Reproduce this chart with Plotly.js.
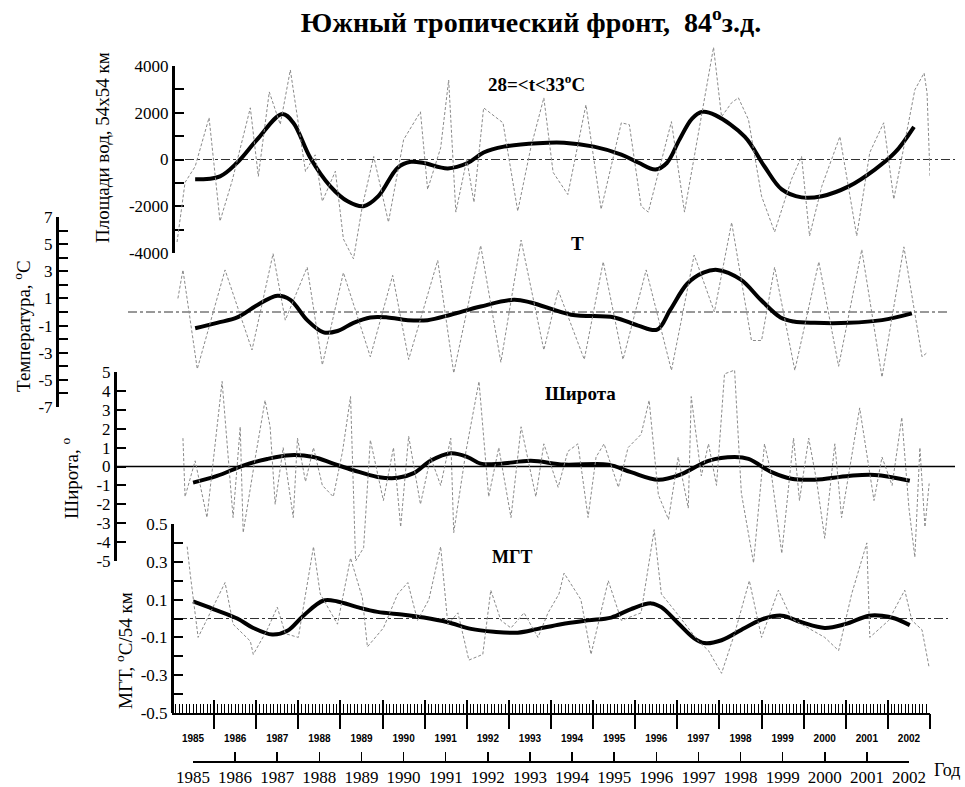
<!DOCTYPE html>
<html><head><meta charset="utf-8">
<script src="https://cdn.plot.ly/plotly-3.0.1.min.js"></script>
<style>html,body{margin:0;padding:0;background:#fff}#chart{width:965px;height:787px}</style>
</head><body><div id="chart"></div>
<script>
// ================= DATA =================
const yearTicks = [1985,1986,1987,1988,1989,1990,1991,1992,1993,1994,1995,1996,1997,1998,1999,2000,2001,2002];
const yearLabels = yearTicks.map(String);

// Panel 1: area of waters 28<=t<33°C (units of 54x54 km)
const areaSmoothYears = [1985.05,1985.64,1986.05,1986.52,1987.12,1987.38,1987.79,1988.26,1988.67,1989.05,1989.40,1989.86,1990.17,1990.48,1991.05,1991.52,1991.90,1992.38,1993.19,1993.81,1994.52,1995.17,1995.57,1995.98,1996.25,1996.55,1996.85,1997.10,1997.40,1998.10,1998.57,1998.98,1999.45,1999.93,2000.57,2001.19,2001.67,2002.12];
const areaSmooth = [-850,-720,-130,850,1950,1570,50,-1150,-1790,-2000,-1570,-350,-100,-150,-380,-150,300,550,700,720,550,210,-130,-430,-150,850,1750,2040,1900,980,-300,-1280,-1620,-1570,-1150,-430,300,1400];
const areaRawYears = [1984.62,1984.81,1985.05,1985.38,1985.64,1985.93,1986.36,1986.55,1986.81,1987.07,1987.31,1987.67,1987.90,1988.07,1988.38,1988.57,1988.81,1989.02,1989.29,1989.64,1990.00,1990.40,1990.57,1990.88,1991.07,1991.24,1991.50,1991.67,1991.90,1992.36,1992.71,1993.02,1993.33,1993.55,1993.90,1994.33,1994.69,1995.17,1995.36,1995.64,1995.81,1996.36,1996.67,1997.24,1997.36,1997.55,1997.79,1997.95,1998.19,1998.50,1998.81,1999.21,1999.45,1999.64,1999.93,2000.36,2000.76,2001.07,2001.40,2001.64,2002.14,2002.36,2002.43,2002.50];
const areaRaw = [-3530,-980,-300,1790,-2640,-900,2210,-720,2890,1500,3830,-510,200,-1790,-500,-3400,-4250,-2000,130,-2680,850,2040,-1280,500,3400,-2250,0,-1830,2210,1570,-2210,500,2640,-550,-1500,2340,-2130,1570,1490,-2000,-2250,1620,-2250,3700,4800,1830,2430,2640,1700,-1570,-3100,-850,130,-3270,-1150,980,-3270,300,1570,-1700,2980,3700,2850,-700];

// Panel 2: temperature anomaly T, °C
const tSmoothYears = [1985.05,1985.57,1986.05,1986.52,1987.00,1987.31,1987.71,1988.10,1988.43,1988.81,1989.21,1989.62,1990.10,1990.57,1991.12,1991.83,1992.62,1993.02,1993.98,1995.00,1995.57,1996.02,1996.33,1996.74,1997.12,1997.45,1998.00,1998.48,1998.95,1999.26,1999.76,2000.57,2001.36,2002.07];
const tSmooth = [-1.2,-0.8,-0.4,0.5,1.2,0.9,-0.6,-1.5,-1.4,-0.8,-0.4,-0.4,-0.6,-0.6,-0.2,0.4,0.9,0.7,-0.2,-0.4,-1.0,-1.3,0.15,2.1,2.9,3.1,2.4,0.9,-0.4,-0.7,-0.8,-0.8,-0.6,-0.1];
const tRawYears = [1984.64,1984.76,1985.10,1985.76,1986.40,1986.90,1987.19,1987.71,1988.07,1988.57,1989.21,1989.74,1990.12,1990.81,1991.19,1991.83,1992.31,1992.79,1993.33,1993.67,1994.29,1994.74,1995.21,1995.76,1996.36,1996.90,1997.38,1997.79,1998.26,1998.50,1998.81,1999.29,1999.86,2000.33,2000.88,2001.36,2001.88,2002.31,2002.43];
const tRaw = [1.0,3.1,-4.2,3.1,-2.8,4.3,-0.6,3.3,-3.9,2.9,-3.3,2.7,-3.5,3.8,-4.5,4.9,-3.7,5.3,-2.8,1.6,-3.5,3.7,-3.5,3.1,-4.3,4.2,0.0,6.6,-2.1,-2.1,3.3,-4.3,3.7,-4.0,4.6,-4.8,4.8,-3.3,-3.0];

// Panel 3: front latitude anomaly, degrees
const latSmoothYears = [1985.00,1985.57,1986.19,1986.76,1987.31,1987.86,1988.33,1988.81,1989.38,1989.86,1990.24,1990.64,1991.12,1991.52,1991.83,1992.31,1993.02,1993.81,1994.86,1995.40,1996.05,1996.60,1997.24,1997.86,1998.19,1998.74,1999.21,1999.76,2000.57,2001.19,2002.02];
const latSmooth = [-0.85,-0.5,0.05,0.4,0.6,0.5,0.15,-0.2,-0.55,-0.6,-0.35,0.3,0.7,0.5,0.15,0.15,0.3,0.1,0.1,-0.3,-0.7,-0.4,0.3,0.5,0.4,-0.3,-0.65,-0.7,-0.5,-0.45,-0.75];
const latRawYears = [1984.76,1984.81,1985.05,1985.33,1985.69,1985.95,1986.12,1986.19,1986.48,1986.71,1986.83,1986.95,1987.14,1987.38,1987.48,1987.67,1987.86,1988.07,1988.33,1988.55,1988.74,1988.86,1989.05,1989.21,1989.52,1989.76,1989.93,1990.12,1990.40,1990.64,1990.88,1991.12,1991.19,1991.48,1991.79,1992.02,1992.26,1992.55,1992.79,1993.14,1993.33,1993.67,1993.90,1994.14,1994.38,1994.57,1994.76,1995.10,1995.33,1995.64,1995.83,1996.05,1996.29,1996.52,1996.76,1996.83,1997.07,1997.24,1997.43,1997.62,1997.86,1998.02,1998.31,1998.57,1998.74,1998.98,1999.26,1999.40,1999.62,1999.81,2000.00,2000.24,2000.40,2000.64,2000.83,2001.17,2001.36,2001.60,2001.83,2002.00,2002.14,2002.26,2002.38,2002.48];
const latRaw = [1.5,-1.6,0.3,-2.7,4.5,-2.7,2.1,-3.5,0.5,3.5,2.1,-2.0,1.0,-2.7,1.5,-0.8,1.0,-1.0,-1.6,0.8,3.7,-5.0,-4.3,1.4,-1.8,1.0,-3.2,1.6,-2.0,0.5,-1.0,1.5,-3.5,0.8,4.5,-1.6,1.0,-2.7,2.1,-1.6,1.2,-1.1,0.8,1.2,-2.7,0.5,1.2,-1.1,1.0,1.7,3.5,-1.5,-2.8,0.5,-2.2,3.7,-0.5,1.2,-1.0,4.9,5.1,-1.4,-5.1,1.2,-0.5,-4.6,1.5,-1.8,1.5,-0.8,-3.8,1.2,-2.7,0.5,3.1,-1.8,0.5,-1.0,2.6,-2.2,-4.8,1.0,-3.2,-0.9];

// Panel 4: meridional temperature gradient MGT, °C/54 km
const mgtSmoothYears = [1985.00,1985.48,1986.05,1986.43,1986.88,1987.24,1987.62,1988.10,1988.43,1988.90,1989.38,1990.00,1990.48,1991.05,1991.60,1992.14,1992.71,1993.19,1993.74,1994.38,1994.93,1995.40,1995.88,1996.12,1996.52,1996.90,1997.14,1997.55,1998.10,1998.57,1998.98,1999.45,2000.00,2000.48,2001.05,2001.36,2001.67,2002.02];
const mgtSmooth = [0.09,0.05,0.0,-0.05,-0.085,-0.065,0.015,0.095,0.09,0.06,0.035,0.02,0.005,-0.02,-0.055,-0.07,-0.075,-0.055,-0.03,-0.01,0.005,0.05,0.08,0.06,-0.025,-0.105,-0.13,-0.115,-0.05,0.0,0.015,-0.02,-0.05,-0.03,0.015,0.015,0.0,-0.035];
const mgtRawYears = [1984.86,1984.93,1985.12,1985.40,1985.76,1985.95,1986.36,1986.43,1986.76,1987.00,1987.19,1987.50,1987.86,1988.02,1988.43,1988.74,1989.02,1989.14,1989.52,1989.86,1990.10,1990.33,1990.60,1990.88,1991.05,1991.29,1991.55,1991.88,1992.07,1992.31,1992.55,1992.86,1993.19,1993.43,1993.69,1993.81,1994.21,1994.45,1994.86,1995.17,1995.64,1995.95,1996.12,1996.48,1997.00,1997.24,1997.55,1997.86,1998.21,1998.50,1998.90,1999.21,1999.62,2000.00,2000.33,2000.64,2001.00,2001.07,2001.52,2001.90,2002.07,2002.31,2002.48];
const mgtRaw = [0.38,0.24,-0.10,0.03,0.19,-0.03,-0.12,-0.19,-0.06,0.06,-0.08,-0.10,0.38,0.13,-0.03,0.32,0.11,-0.15,-0.05,0.13,0.19,-0.01,0.10,0.38,-0.03,0.03,-0.22,-0.19,0.15,-0.01,-0.05,0.03,-0.10,0.03,0.13,0.24,0.10,-0.19,0.20,-0.01,0.03,0.47,0.13,0.03,-0.12,-0.17,-0.29,-0.08,0.20,-0.10,0.15,0.00,-0.05,-0.10,-0.17,0.13,0.40,-0.10,-0.01,0.15,-0.01,-0.06,-0.26];

// tick labels
const areaTickVals = [-4000,-2000,0,2000,4000];
const areaTickText = ['-4000','-2000','0','2000','4000'];
const areaMinor = [-3000,-1000,1000,3000];
const tTickVals = [-7,-5,-3,-1,1,3,5,7];
const tTickText = ['-7','-5','-3','-1','1','3','5','7'];
const tMinor = [-6,-4,-2,0,2,4,6];
const latTickVals = [-5,-4,-3,-2,-1,0,1,2,3,4,5];
const latTickText = ['-5','-4','-3','-2','-1','0','1','2','3','4','5'];
const mgtTickVals = [-0.5,-0.3,-0.1,0.1,0.3,0.5];
const mgtTickText = ['-0.5','-0.3','-0.1','0.1','0.3','0.5'];
const mgtMinor = [-0.4,-0.2,0,0.2,0.4];

// ================= LAYOUT =================
const W = 965, H = 787;
const px = p => p / W;
const py = p => 1 - p / H;
const serif = 'Liberation Serif, Times New Roman, serif';
const sans = 'Liberation Sans, Arial, sans-serif';
const majorX = yearTicks.map(y => y + 0.5);
const xRange = [1984.5, 2002.5];

// visible panel geometry (pixel top, bottom)
const panels = {
  area: {top: 66, bottom: 253, range: [-4000, 4000]},
  t:    {top: 217, bottom: 407, range: [-7, 7]},
  lat:  {top: 372, bottom: 561, range: [-5, 5]},
  mgt:  {top: 524, bottom: 713, range: [-0.5, 0.5]}
};
function domainOf(p) { return [py(p.bottom), py(p.top)]; }
function extended(p, padTop, padBot) {
  const k = (p.bottom - p.top) / (p.range[1] - p.range[0]);
  return {
    domain: [py(p.bottom + padBot), py(p.top - padTop)],
    range: [p.range[0] - padBot / k, p.range[1] + padTop / k]
  };
}

function yVisible(p, pos, vals, text, minor) {
  const ax = {
    domain: domainOf(p), range: p.range, anchor: 'free', position: px(pos), side: 'left',
    showline: true, linewidth: 2.5, linecolor: '#000',
    ticks: 'inside', ticklen: 9, tickwidth: 2, tickcolor: '#000',
    tickmode: 'array', tickvals: vals, ticktext: text,
    tickfont: {family: serif, size: 17, color: '#000'},
    showgrid: false, zeroline: false, fixedrange: true
  };
  if (minor) ax.minor = {tickmode: 'array', tickvals: minor, ticks: 'inside', ticklen: 9, tickwidth: 2, tickcolor: '#000', showgrid: false};
  return ax;
}
function yHidden(e) {
  return {domain: e.domain, range: e.range, anchor: 'x', visible: false, showgrid: false, zeroline: false, fixedrange: true};
}

const smoothLine = {color: '#000', width: 4, shape: 'spline', smoothing: 1};
const rawLine = {color: '#8a8a8a', width: 1, dash: '3px,2px'};

const traces = [
  {x: areaRawYears, y: areaRaw, xaxis: 'x', yaxis: 'y5', mode: 'lines', line: rawLine, hoverinfo: 'skip'},
  {x: tRawYears, y: tRaw, xaxis: 'x', yaxis: 'y6', mode: 'lines', line: rawLine, hoverinfo: 'skip'},
  {x: latRawYears, y: latRaw, xaxis: 'x', yaxis: 'y7', mode: 'lines', line: rawLine, hoverinfo: 'skip'},
  {x: mgtRawYears, y: mgtRaw, xaxis: 'x', yaxis: 'y8', mode: 'lines', line: rawLine, hoverinfo: 'skip'},
  {x: areaSmoothYears, y: areaSmooth, xaxis: 'x', yaxis: 'y', mode: 'lines', line: smoothLine},
  {x: tSmoothYears, y: tSmooth, xaxis: 'x', yaxis: 'y2', mode: 'lines', line: smoothLine},
  {x: latSmoothYears, y: latSmooth, xaxis: 'x', yaxis: 'y3', mode: 'lines', line: smoothLine},
  {x: mgtSmoothYears, y: mgtSmooth, xaxis: 'x', yaxis: 'y4', mode: 'lines', line: smoothLine},
  {x: [], y: [], xaxis: 'x2', yaxis: 'y4', mode: 'lines', hoverinfo: 'skip'},
  {x: [], y: [], xaxis: 'x3', yaxis: 'y4', mode: 'lines', hoverinfo: 'skip'},
  {x: [], y: [], xaxis: 'x4', yaxis: 'y4', mode: 'lines', hoverinfo: 'skip'}
];

function zeroLine(yref, x0, x1, dash, width, color) {
  return {type: 'line', xref: 'paper', yref: yref, x0: px(x0), x1: px(x1), y0: 0, y1: 0,
          line: {color: color, width: width, dash: dash}, layer: 'below'};
}
function label(text, x, y, size, bold, angle) {
  return {text: bold ? '<b>' + text + '</b>' : text, xref: 'paper', yref: 'paper', x: px(x), y: py(y),
          xanchor: 'center', yanchor: 'middle', showarrow: false, textangle: angle || 0,
          font: {family: serif, size: size, color: '#000'}};
}

const layout = {
  width: W, height: H, margin: {l: 0, r: 0, t: 0, b: 0},
  paper_bgcolor: '#ffffff', plot_bgcolor: 'rgba(0,0,0,0)', showlegend: false,
  title: {text: '<b>Южный тропический фронт,  84<sup>o</sup>з.д.</b>', x: px(531), xanchor: 'center', y: py(22), yanchor: 'middle',
          font: {family: serif, size: 28, color: '#000'}},
  xaxis: {domain: [px(172), px(930)], range: xRange, anchor: 'y4', showline: true, linewidth: 2, linecolor: '#000',
          ticks: 'inside', tickmode: 'array', tickvals: majorX, ticklen: 13, tickwidth: 2, tickcolor: '#000',
          showticklabels: false, showgrid: false, zeroline: false, fixedrange: true,
          minor: {ticks: 'inside', tickmode: 'linear', tick0: 1984.5, dtick: 1/12, ticklen: 9, tickwidth: 1, tickcolor: '#000', showgrid: false}},
  xaxis2: {overlaying: 'x', anchor: 'y4', side: 'bottom', range: xRange, ticks: 'outside', tickmode: 'array', tickvals: majorX,
           ticklen: 15, tickwidth: 2, tickcolor: '#000', showticklabels: false, showline: false, showgrid: false, zeroline: false, fixedrange: true},
  xaxis3: {overlaying: 'x', anchor: 'free', position: py(731), side: 'bottom', range: xRange, ticks: '', tickmode: 'array',
           tickvals: yearTicks, ticktext: yearLabels, tickfont: {family: sans, size: 10, color: '#000', weight: 'bold'},
           showline: false, showgrid: false, zeroline: false, fixedrange: true},
  xaxis4: {domain: [px(193), px(909)], range: [1985, 2002], anchor: 'free', position: py(761), side: 'bottom',
           showline: true, linewidth: 1.5, linecolor: '#000', ticks: 'inside', ticklen: 9, tickwidth: 1.5, tickcolor: '#000',
           tickmode: 'array', tickvals: yearTicks, ticktext: yearLabels, tickfont: {family: serif, size: 17, color: '#000'},
           showgrid: false, zeroline: false, fixedrange: true},
  yaxis: yVisible(panels.area, 173, areaTickVals, areaTickText, areaMinor),
  yaxis2: yVisible(panels.t, 57, tTickVals, tTickText, tMinor),
  yaxis3: yVisible(panels.lat, 115, latTickVals, latTickText, null),
  yaxis4: yVisible(panels.mgt, 172, mgtTickVals, mgtTickText, mgtMinor),
  yaxis5: yHidden(extended(panels.area, 40, 25)),
  yaxis6: yHidden(extended(panels.t, 15, 15)),
  yaxis7: yHidden(extended(panels.lat, 10, 10)),
  yaxis8: yHidden(extended(panels.mgt, 10, 10)),
  shapes: [
    zeroLine('y', 185, 955, 'dashdot', 1, '#333'),
    zeroLine('y2', 128, 950, 'dashdot', 1, '#333'),
    zeroLine('y3', 115, 955, 'solid', 1.5, '#000'),
    zeroLine('y4', 178, 948, 'dashdot', 1, '#333')
  ],
  annotations: [
    label('28=&lt;t&lt;33<sup>o</sup>C', 536, 83, 19, true),
    label('T', 577, 243, 19, true),
    label('Широта', 580, 393, 19, true),
    label('МГТ', 512, 557, 18, true),
    label('Площади вод, 54x54 км', 103, 148, 19, false, -90),
    label('Температура, <sup>o</sup>C', 22, 326, 19, false, -90),
    label('Широта, <sup>o</sup>', 70, 478, 19, false, -90),
    label('МГТ, <sup>o</sup>C/54 км', 124, 651, 19, false, -90),
    label('Год', 947, 770, 18, false)
  ]
};

Plotly.newPlot('chart', traces, layout, {staticPlot: true, displayModeBar: false});
</script>
</body></html>
